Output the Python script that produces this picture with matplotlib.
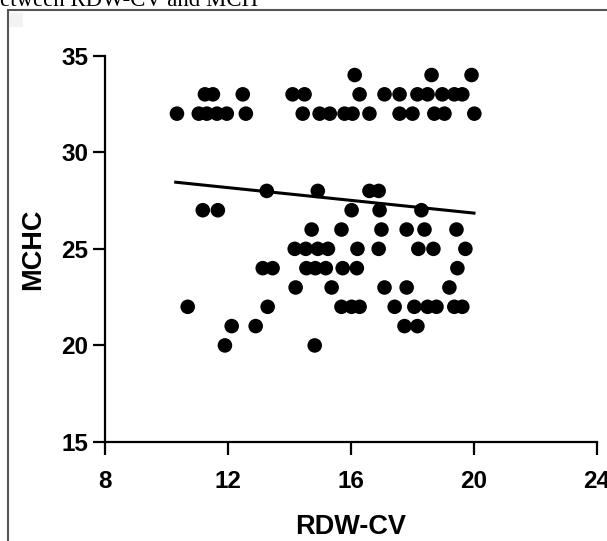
import numpy as np
import matplotlib
matplotlib.use("Agg")
import matplotlib.pyplot as plt
from matplotlib.patches import Rectangle

# RDW-CV (x) values, grouped by MCHC level (y)
rdw = {
    34: [16.12, 18.62, 19.92],
    33: [11.25, 11.51, 12.48, 14.10, 14.49, 16.28, 17.09, 17.58, 18.16, 18.49, 18.97, 19.36, 19.62],
    32: [10.34, 11.05, 11.31, 11.64, 11.96, 12.58, 14.43, 14.98, 15.31, 15.79, 16.05,
         16.60, 17.58, 18.00, 18.71, 19.04, 20.01],
    28: [13.26, 14.92, 16.60, 16.90],
    27: [11.18, 11.67, 16.02, 16.93, 18.29],
    26: [14.72, 15.69, 16.99, 17.81, 18.39, 19.43],
    25: [14.17, 14.53, 14.92, 15.25, 16.21, 16.90, 18.19, 18.68, 19.72],
    24: [13.13, 13.45, 14.55, 14.84, 15.18, 15.73, 16.19, 19.46],
    23: [14.20, 15.37, 17.09, 17.81, 19.20],
    22: [10.69, 13.29, 15.69, 16.02, 16.28, 17.42, 18.06, 18.49, 18.78, 19.36, 19.62],
    21: [12.12, 12.90, 17.74, 18.16],
    20: [11.90, 14.82],
}
x = np.array([v for k in rdw for v in rdw[k]])
y = np.array([k for k in rdw for v in rdw[k]])

# fitted line end points
fit_x = [10.3, 20.0]
fit_y = [28.45, 26.85]

xticks = [8, 12, 16, 20, 24]
yticks = [15, 20, 25, 30, 35]

plt.rcParams["font.family"] = ["Liberation Sans", "DejaVu Sans"]
plt.rcParams["font.weight"] = "bold"

fig = plt.figure(figsize=(6.07, 5.41), dpi=100)
ax = fig.add_axes([105/607, 1-442/541, 492/607, 386.3/541])

ax.scatter(x, y, s=110, color="black", edgecolors="none", zorder=3, clip_on=False)
ax.plot(fit_x, fit_y, color="black", lw=2.2, zorder=2)

ax.set_xlim(8, 24)
ax.set_ylim(15, 35)
ax.set_xticks(xticks)
ax.set_yticks(yticks)
for s in ["top", "right"]:
    ax.spines[s].set_visible(False)
for s in ["left", "bottom"]:
    ax.spines[s].set_linewidth(1.6)
ax.tick_params(axis="both", length=9, width=1.6, labelsize=17.5)
ax.tick_params(axis="x", pad=11)
ax.tick_params(axis="y", pad=3)
for lab in ax.get_xticklabels() + ax.get_yticklabels():
    lab.set_fontweight("bold")

ax.set_xlabel("RDW-CV", fontsize=19.5, fontweight="bold", labelpad=15)
ax.set_ylabel("MCHC", fontsize=19.5, fontweight="bold", labelpad=11)

# page frame and clipped caption of the source figure
fig.patches.append(Rectangle((8/607, -0.1), 1.2, 1-10/541+0.1, transform=fig.transFigure,
                             fill=False, edgecolor="#555555", lw=1.5, clip_on=False))
fig.patches.append(Rectangle((9/607, 1-27/541), 14/607, 14/541, transform=fig.transFigure,
                             facecolor="#f3f3f3", edgecolor="none"))
fig.text(0, 1-6/541, "etween RDW-CV and MCH", fontsize=16.5, family="Liberation Serif",
         fontweight="normal", va="baseline", ha="left")

fig.savefig("out.png", dpi=100)
